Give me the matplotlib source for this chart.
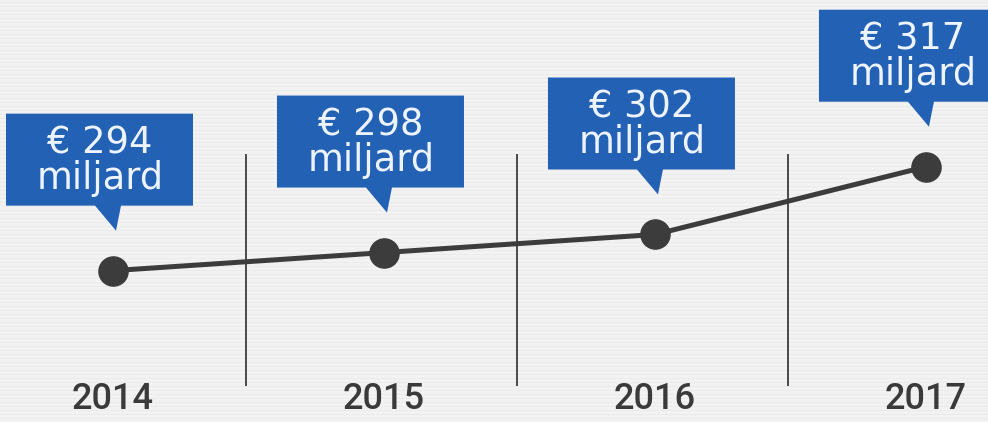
import matplotlib
matplotlib.use("Agg")
import matplotlib.pyplot as plt
import matplotlib.transforms as mtransforms
from matplotlib.patches import Polygon

years = ["2014", "2015", "2016", "2017"]
values = [294, 298, 302, 317]
labels = ["€ 294\nmiljard", "€ 298\nmiljard", "€ 302\nmiljard", "€ 317\nmiljard"]

BG = "#f2f2f2"
BLUE = "#2361b4"
DARK = "#3c3c3c"

fig = plt.figure(figsize=(9.88, 4.22), dpi=100, facecolor=BG)
ax = fig.add_axes([0, 0, 1, 1])
ax.set_facecolor(BG)
ax.set_xlim(-0.417, 3.229)
ax.set_ylim(260.5, 353.9)
ax.axis("off")

for k in range(0, 422, 4):
    ax.axhline(260.5 + (353.9 - 260.5) * k / 422, color="#e9e9e9", lw=0.5, zorder=0)

x = list(range(len(years)))

for s in [0.5, 1.5, 2.5]:
    ax.axvline(s - 0.01, ymin=0.088, ymax=0.633, color="#4a4a4a", lw=1.4, zorder=1)

ax.plot(x, values, color=DARK, lw=3.6, zorder=3, solid_capstyle="round")
ax.plot(x, values, "o", color=DARK, markersize=21, zorder=4)

yr_trans = mtransforms.blended_transform_factory(ax.transData, ax.transAxes)
for xi, yr in zip(x, years):
    ax.text(xi, 0.012, yr, transform=yr_trans, ha="center", va="bottom",
            fontsize=26, color="#3a3a3a", family=["Roboto", "DejaVu Sans"],
            weight="medium")

for xi, v, lab in zip(x, values, labels):
    tr = fig.dpi_scale_trans + mtransforms.ScaledTranslation(xi, v, ax.transData)
    px = lambda a, b: (a / 100.0, b / 100.0)
    box = [px(-107, 65), px(-18, 65), px(3, 40), px(8, 65), px(80, 65),
           px(80, 157), px(-107, 157)]
    ax.add_patch(Polygon(box, closed=True, facecolor=BLUE, edgecolor="none",
                         transform=tr, clip_on=False, zorder=5))
    ax.annotate(lab, xy=(xi, v), xytext=(-13, 110), textcoords="offset pixels",
                ha="center", va="center", fontsize=26.5,
                color="#eef4ff", linespacing=0.95, zorder=6,
                family="DejaVu Sans")

fig.savefig("out.png", dpi=100, facecolor=BG)
